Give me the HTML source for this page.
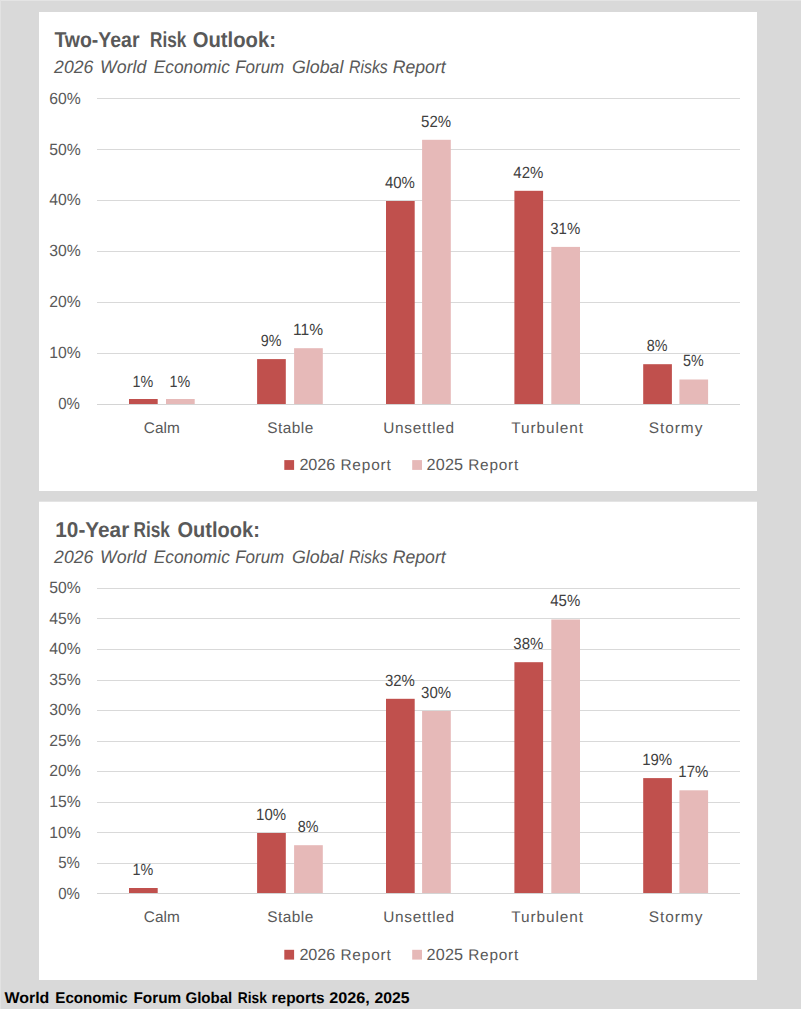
<!DOCTYPE html>
<html lang="en"><head><meta charset="utf-8"><title>WEF Global Risks Outlook</title>
<style>
html,body{margin:0;padding:0;background:#d9d9d9;}
body{width:801px;height:1009px;overflow:hidden;}
svg{display:block;font-family:"Liberation Sans",sans-serif;text-rendering:geometricPrecision;}
</style></head><body>
<svg width="801" height="1009" viewBox="0 0 801 1009">
<rect width="801" height="1009" fill="#d9d9d9"/>
<rect x="39.00" y="12.00" width="718.00" height="479.00" fill="#ffffff"/>
<text transform="translate(54.40 47.00) scale(0.9011 1)" font-size="21.6" fill="#595959" font-weight="bold">Two-Year</text>
<text transform="translate(150.10 47.00) scale(0.7950 1)" font-size="21.6" fill="#595959" font-weight="bold">Risk</text>
<text transform="translate(192.70 47.00) scale(0.9383 1)" font-size="21.6" fill="#595959" font-weight="bold">Outlook:</text>
<text transform="translate(54.11 72.90) scale(0.9786 1)" font-size="18.0" fill="#595959" font-style="italic">2026</text>
<text transform="translate(100.10 72.90) scale(0.9856 1)" font-size="18.0" fill="#595959" font-style="italic">World</text>
<text transform="translate(153.70 72.90) scale(0.9628 1)" font-size="18.0" fill="#595959" font-style="italic">Economic</text>
<text transform="translate(235.20 72.90) scale(0.9423 1)" font-size="18.0" fill="#595959" font-style="italic">Forum</text>
<text transform="translate(291.90 72.90) scale(0.9898 1)" font-size="18.0" fill="#595959" font-style="italic">Global</text>
<text transform="translate(349.00 72.90) scale(0.8820 1)" font-size="18.0" fill="#595959" font-style="italic">Risks</text>
<text transform="translate(392.70 72.90) scale(0.9805 1)" font-size="18.0" fill="#595959" font-style="italic">Report</text>
<rect x="97.00" y="404.00" width="643.00" height="1.00" fill="#d9d9d9"/>
<text transform="translate(58.20 408.65) scale(0.9270 1)" font-size="16.2" fill="#595959">0%</text>
<rect x="97.00" y="353.00" width="643.00" height="1.00" fill="#d9d9d9"/>
<text transform="translate(49.30 357.86) scale(0.9717 1)" font-size="16.2" fill="#595959">10%</text>
<rect x="97.00" y="302.00" width="643.00" height="1.00" fill="#d9d9d9"/>
<text transform="translate(49.30 307.07) scale(0.9717 1)" font-size="16.2" fill="#595959">20%</text>
<rect x="97.00" y="251.00" width="643.00" height="1.00" fill="#d9d9d9"/>
<text transform="translate(49.30 256.28) scale(0.9717 1)" font-size="16.2" fill="#595959">30%</text>
<rect x="97.00" y="200.00" width="643.00" height="1.00" fill="#d9d9d9"/>
<text transform="translate(49.30 205.49) scale(0.9717 1)" font-size="16.2" fill="#595959">40%</text>
<rect x="97.00" y="149.00" width="643.00" height="1.00" fill="#d9d9d9"/>
<text transform="translate(49.30 154.70) scale(0.9717 1)" font-size="16.2" fill="#595959">50%</text>
<rect x="97.00" y="98.00" width="643.00" height="1.00" fill="#d9d9d9"/>
<text transform="translate(49.30 103.91) scale(0.9717 1)" font-size="16.2" fill="#595959">60%</text>
<rect x="129.00" y="399.00" width="28.70" height="5.00" fill="#c0504d"/>
<text transform="translate(132.60 386.90) scale(0.8843 1)" font-size="16.2" fill="#404040">1%</text>
<rect x="166.00" y="399.00" width="28.70" height="5.00" fill="#e6b9b8"/>
<text transform="translate(169.60 386.90) scale(0.8843 1)" font-size="16.2" fill="#404040">1%</text>
<rect x="257.10" y="359.10" width="28.70" height="44.90" fill="#c0504d"/>
<text transform="translate(260.70 346.00) scale(0.8843 1)" font-size="16.2" fill="#404040">9%</text>
<rect x="294.10" y="348.20" width="28.70" height="55.80" fill="#e6b9b8"/>
<text transform="translate(293.05 335.10) scale(0.9610 1)" font-size="16.2" fill="#404040">11%</text>
<rect x="386.00" y="201.00" width="28.70" height="203.00" fill="#c0504d"/>
<text transform="translate(384.95 187.90) scale(0.9255 1)" font-size="16.2" fill="#404040">40%</text>
<rect x="422.10" y="139.80" width="28.70" height="264.20" fill="#e6b9b8"/>
<text transform="translate(421.05 126.70) scale(0.9255 1)" font-size="16.2" fill="#404040">52%</text>
<rect x="514.40" y="190.80" width="28.70" height="213.20" fill="#c0504d"/>
<text transform="translate(513.35 177.70) scale(0.9255 1)" font-size="16.2" fill="#404040">42%</text>
<rect x="551.30" y="246.90" width="28.70" height="157.10" fill="#e6b9b8"/>
<text transform="translate(550.25 233.80) scale(0.9255 1)" font-size="16.2" fill="#404040">31%</text>
<rect x="643.20" y="364.20" width="28.70" height="39.80" fill="#c0504d"/>
<text transform="translate(646.80 351.10) scale(0.8843 1)" font-size="16.2" fill="#404040">8%</text>
<rect x="679.40" y="379.50" width="28.70" height="24.50" fill="#e6b9b8"/>
<text transform="translate(683.00 366.40) scale(0.8843 1)" font-size="16.2" fill="#404040">5%</text>
<rect x="97.00" y="404.00" width="643.00" height="1.00" fill="#d4d4d4"/>
<text transform="translate(143.65 432.70) scale(1.0000 1)" font-size="15.4" letter-spacing="0.119" fill="#595959">Calm</text>
<text transform="translate(267.20 432.70) scale(1.0000 1)" font-size="15.4" letter-spacing="0.488" fill="#595959">Stable</text>
<text transform="translate(383.20 432.70) scale(1.0000 1)" font-size="15.4" letter-spacing="0.742" fill="#595959">Unsettled</text>
<text transform="translate(511.15 432.70) scale(1.0000 1)" font-size="15.4" letter-spacing="0.938" fill="#595959">Turbulent</text>
<text transform="translate(648.85 432.70) scale(1.0000 1)" font-size="15.4" letter-spacing="0.946" fill="#595959">Stormy</text>
<rect x="284.30" y="460.10" width="9.80" height="9.80" fill="#c0504d"/>
<text transform="translate(299.40 469.80) scale(1.0000 1)" font-size="16.2" letter-spacing="-0.048" fill="#595959">2026</text>
<text transform="translate(340.40 469.80) scale(1.0000 1)" font-size="15.4" letter-spacing="0.857" fill="#595959">Report</text>
<rect x="412.20" y="460.10" width="9.80" height="9.80" fill="#e6b9b8"/>
<text transform="translate(426.60 469.80) scale(1.0000 1)" font-size="16.2" letter-spacing="0.152" fill="#595959">2025</text>
<text transform="translate(468.20 469.80) scale(1.0000 1)" font-size="15.4" letter-spacing="0.777" fill="#595959">Report</text>
<rect x="39.00" y="501.70" width="718.00" height="478.30" fill="#ffffff"/>
<text transform="translate(55.30 536.70) scale(0.9626 1)" font-size="21.6" fill="#595959" font-weight="bold">10-Year</text>
<text transform="translate(133.50 536.70) scale(0.7993 1)" font-size="21.6" fill="#595959" font-weight="bold">Risk</text>
<text transform="translate(177.50 536.70) scale(0.9282 1)" font-size="21.6" fill="#595959" font-weight="bold">Outlook:</text>
<text transform="translate(54.11 562.60) scale(0.9786 1)" font-size="18.0" fill="#595959" font-style="italic">2026</text>
<text transform="translate(100.10 562.60) scale(0.9856 1)" font-size="18.0" fill="#595959" font-style="italic">World</text>
<text transform="translate(153.70 562.60) scale(0.9628 1)" font-size="18.0" fill="#595959" font-style="italic">Economic</text>
<text transform="translate(235.20 562.60) scale(0.9423 1)" font-size="18.0" fill="#595959" font-style="italic">Forum</text>
<text transform="translate(291.90 562.60) scale(0.9898 1)" font-size="18.0" fill="#595959" font-style="italic">Global</text>
<text transform="translate(349.00 562.60) scale(0.8820 1)" font-size="18.0" fill="#595959" font-style="italic">Risks</text>
<text transform="translate(392.70 562.60) scale(0.9805 1)" font-size="18.0" fill="#595959" font-style="italic">Report</text>
<rect x="97.00" y="893.00" width="643.00" height="1.00" fill="#d9d9d9"/>
<text transform="translate(58.20 898.75) scale(0.9270 1)" font-size="16.2" fill="#595959">0%</text>
<rect x="97.00" y="863.00" width="643.00" height="1.00" fill="#d9d9d9"/>
<text transform="translate(58.20 868.18) scale(0.9270 1)" font-size="16.2" fill="#595959">5%</text>
<rect x="97.00" y="832.00" width="643.00" height="1.00" fill="#d9d9d9"/>
<text transform="translate(49.30 837.61) scale(0.9717 1)" font-size="16.2" fill="#595959">10%</text>
<rect x="97.00" y="802.00" width="643.00" height="1.00" fill="#d9d9d9"/>
<text transform="translate(49.30 807.04) scale(0.9717 1)" font-size="16.2" fill="#595959">15%</text>
<rect x="97.00" y="771.00" width="643.00" height="1.00" fill="#d9d9d9"/>
<text transform="translate(49.30 776.47) scale(0.9717 1)" font-size="16.2" fill="#595959">20%</text>
<rect x="97.00" y="741.00" width="643.00" height="1.00" fill="#d9d9d9"/>
<text transform="translate(49.30 745.90) scale(0.9717 1)" font-size="16.2" fill="#595959">25%</text>
<rect x="97.00" y="710.00" width="643.00" height="1.00" fill="#d9d9d9"/>
<text transform="translate(49.30 715.33) scale(0.9717 1)" font-size="16.2" fill="#595959">30%</text>
<rect x="97.00" y="680.00" width="643.00" height="1.00" fill="#d9d9d9"/>
<text transform="translate(49.30 684.76) scale(0.9717 1)" font-size="16.2" fill="#595959">35%</text>
<rect x="97.00" y="649.00" width="643.00" height="1.00" fill="#d9d9d9"/>
<text transform="translate(49.30 654.19) scale(0.9717 1)" font-size="16.2" fill="#595959">40%</text>
<rect x="97.00" y="618.00" width="643.00" height="1.00" fill="#d9d9d9"/>
<text transform="translate(49.30 623.62) scale(0.9717 1)" font-size="16.2" fill="#595959">45%</text>
<rect x="97.00" y="588.00" width="643.00" height="1.00" fill="#d9d9d9"/>
<text transform="translate(49.30 593.05) scale(0.9717 1)" font-size="16.2" fill="#595959">50%</text>
<rect x="129.00" y="888.00" width="28.70" height="5.00" fill="#c0504d"/>
<text transform="translate(132.60 874.90) scale(0.8843 1)" font-size="16.2" fill="#404040">1%</text>
<rect x="257.10" y="833.00" width="28.70" height="60.00" fill="#c0504d"/>
<text transform="translate(256.05 819.90) scale(0.9255 1)" font-size="16.2" fill="#404040">10%</text>
<rect x="294.10" y="845.20" width="28.70" height="47.80" fill="#e6b9b8"/>
<text transform="translate(297.70 832.10) scale(0.8843 1)" font-size="16.2" fill="#404040">8%</text>
<rect x="386.00" y="698.80" width="28.70" height="194.20" fill="#c0504d"/>
<text transform="translate(384.95 685.70) scale(0.9255 1)" font-size="16.2" fill="#404040">32%</text>
<rect x="422.10" y="711.00" width="28.70" height="182.00" fill="#e6b9b8"/>
<text transform="translate(421.05 697.90) scale(0.9255 1)" font-size="16.2" fill="#404040">30%</text>
<rect x="514.40" y="662.20" width="28.70" height="230.80" fill="#c0504d"/>
<text transform="translate(513.35 649.10) scale(0.9255 1)" font-size="16.2" fill="#404040">38%</text>
<rect x="551.30" y="619.50" width="28.70" height="273.50" fill="#e6b9b8"/>
<text transform="translate(550.25 606.40) scale(0.9255 1)" font-size="16.2" fill="#404040">45%</text>
<rect x="643.20" y="778.10" width="28.70" height="114.90" fill="#c0504d"/>
<text transform="translate(642.15 765.00) scale(0.9255 1)" font-size="16.2" fill="#404040">19%</text>
<rect x="679.40" y="790.30" width="28.70" height="102.70" fill="#e6b9b8"/>
<text transform="translate(678.35 777.20) scale(0.9255 1)" font-size="16.2" fill="#404040">17%</text>
<rect x="97.00" y="893.00" width="643.00" height="1.00" fill="#d4d4d4"/>
<text transform="translate(143.65 922.40) scale(1.0000 1)" font-size="15.4" letter-spacing="0.119" fill="#595959">Calm</text>
<text transform="translate(267.20 922.40) scale(1.0000 1)" font-size="15.4" letter-spacing="0.488" fill="#595959">Stable</text>
<text transform="translate(383.20 922.40) scale(1.0000 1)" font-size="15.4" letter-spacing="0.742" fill="#595959">Unsettled</text>
<text transform="translate(511.15 922.40) scale(1.0000 1)" font-size="15.4" letter-spacing="0.938" fill="#595959">Turbulent</text>
<text transform="translate(648.85 922.40) scale(1.0000 1)" font-size="15.4" letter-spacing="0.946" fill="#595959">Stormy</text>
<rect x="284.30" y="949.80" width="9.80" height="9.80" fill="#c0504d"/>
<text transform="translate(299.40 959.50) scale(1.0000 1)" font-size="16.2" letter-spacing="-0.048" fill="#595959">2026</text>
<text transform="translate(340.40 959.50) scale(1.0000 1)" font-size="15.4" letter-spacing="0.857" fill="#595959">Report</text>
<rect x="412.20" y="949.80" width="9.80" height="9.80" fill="#e6b9b8"/>
<text transform="translate(426.60 959.50) scale(1.0000 1)" font-size="16.2" letter-spacing="0.152" fill="#595959">2025</text>
<text transform="translate(468.20 959.50) scale(1.0000 1)" font-size="15.4" letter-spacing="0.777" fill="#595959">Report</text>
<text transform="translate(4.40 1002.60) scale(1.0294 1)" font-size="15.5" fill="#000000" font-weight="bold">World</text>
<text transform="translate(55.30 1002.60) scale(0.9760 1)" font-size="15.5" fill="#000000" font-weight="bold">Economic</text>
<text transform="translate(133.40 1002.60) scale(0.9913 1)" font-size="15.5" fill="#000000" font-weight="bold">Forum</text>
<text transform="translate(185.40 1002.60) scale(0.9726 1)" font-size="15.5" fill="#000000" font-weight="bold">Global</text>
<text transform="translate(237.80 1002.60) scale(0.8881 1)" font-size="15.5" fill="#000000" font-weight="bold">Risk</text>
<text transform="translate(271.60 1002.60) scale(0.9926 1)" font-size="15.5" fill="#000000" font-weight="bold">reports</text>
<text transform="translate(329.30 1002.60) scale(1.0443 1)" font-size="15.5" fill="#000000" font-weight="bold">2026,</text>
<text transform="translate(374.40 1002.60) scale(1.0178 1)" font-size="15.5" fill="#000000" font-weight="bold">2025</text>
<rect x="0.00" y="0.00" width="801.00" height="1.00" fill="#e4e4e4"/>
<rect x="0.00" y="0.00" width="1.00" height="1009.00" fill="#e2e2e2"/>
</svg>
</body></html>
